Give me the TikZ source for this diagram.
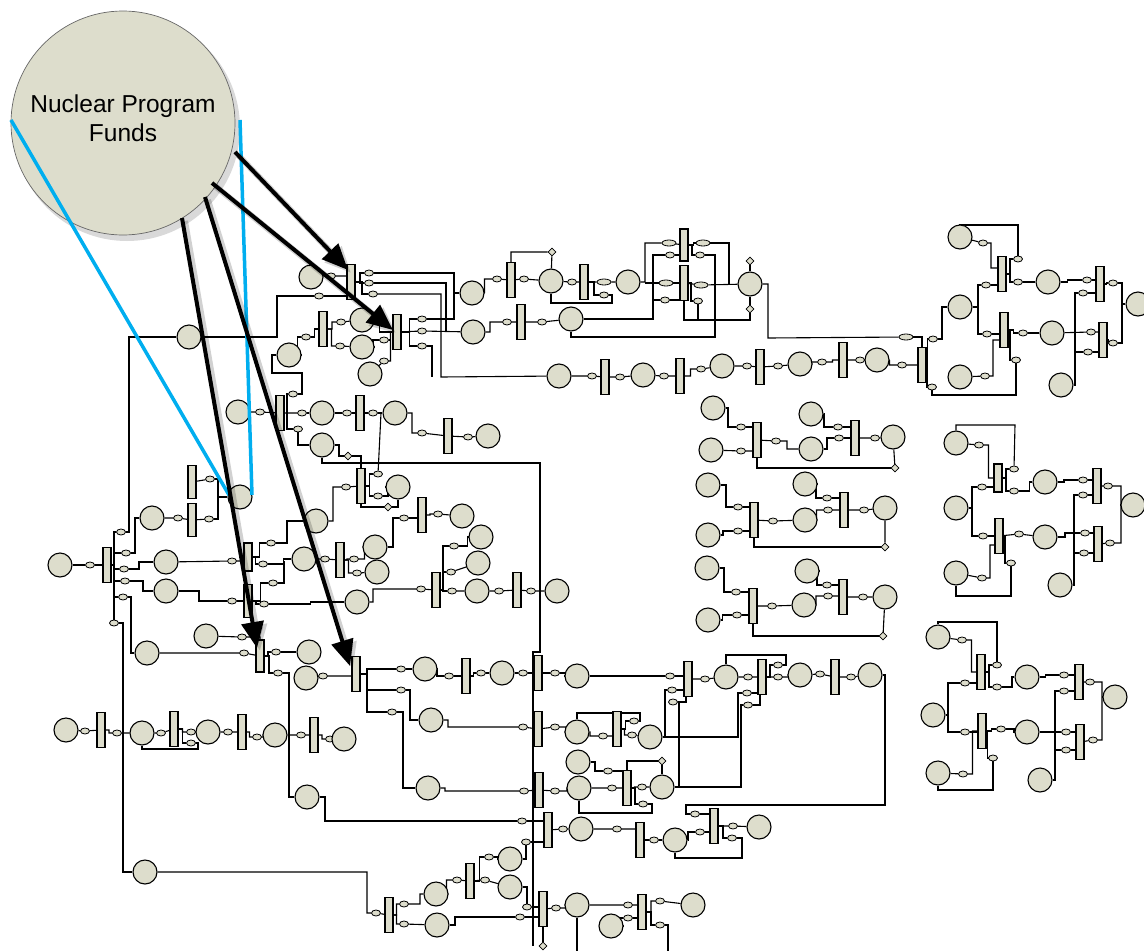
\documentclass[tikz,border=0pt]{standalone}
\usepackage{fontspec}
\setmainfont{Liberation Sans}
\usetikzlibrary{shapes.geometric,arrows.meta,calc}
\pgfdeclarelayer{back}\pgfdeclarelayer{front}
\pgfsetlayers{back,main,front}
\definecolor{bg}{RGB}{221,221,204}
\definecolor{cy}{RGB}{0,174,239}
\newcommand\Ci[3]{\node[ci] (#1) at (#2,#3) {};}
\newcommand\Rb[3]{\node[rb] (#1) at (#2,#3) {};}
\newcommand\Ov[3]{\node[ov] (#1) at (#2,#3) {};}
\newcommand\Ow[3]{\node[ov,minimum width=14pt] (#1) at (#2,#3) {};}
\newcommand\Dm[3]{\node[dm] (#1) at (#2,#3) {};}
\tikzset{
 ci/.style={circle,draw=black,line width=1.1pt,fill=bg,minimum size=24pt,inner sep=0pt},
 rb/.style={rectangle,draw=black,line width=1.1pt,fill=bg,minimum width=8pt,minimum height=35pt,inner sep=0pt},
 ov/.style={ellipse,draw=black,line width=0.8pt,fill=bg,minimum width=9pt,minimum height=6pt,inner sep=0pt},
 dm/.style={diamond,draw=black,line width=0.8pt,fill=bg,minimum size=8pt,inner sep=0pt},
 ln/.style={line width=1.1pt},
 zz/.style={to path={(\tikztostart) -| ($(\tikztostart)!0.5!(\tikztotarget)$) |- (\tikztotarget)}},
 bigarrow/.style={-{Triangle[length=26pt,width=22pt]},line width=4pt},
 arrowshadow/.style={-{Triangle[length=26pt,width=22pt]},line width=6pt,black,opacity=0.18},
}
\begin{document}
\begin{tikzpicture}[x=1pt,y=-1pt]
\useasboundingbox (0,0) rectangle (1144,951);
\begin{pgfonlayer}{back}
\fill[white] (0,0) rectangle (1144,951);
\end{pgfonlayer}
% ---------------- TOP ----------------
\Ci{npfA}{311}{277}\Ov{a1}{331}{276}\Rb{rA1}{351}{282}
\Ov{a2}{369}{273}\Ov{a3}{369}{283}\Ov{a4}{373}{294}\Ov{a5}{319}{296}
\Ci{fcA}{189}{337}\Rb{rA2}{323}{329}
\Ci{cA1}{362}{320}\Ci{cA2}{362}{347}\Ci{cA3}{370}{374}\Ci{cA4}{289}{355}
\Ov{a6}{306}{337}\Ov{a7}{341}{322}\Ov{a8}{340}{346}\Ov{a9}{384}{340}\Ov{a10}{384}{361}
\Rb{rA3}{397}{332}
\Ov{a11}{422}{319}\Ov{a12}{422}{331}\Ov{a13}{422}{346}
\Ci{cU1}{472}{293}\Ci{cU2}{473}{332}
% top chain
\Ov{u1}{497}{279}\Rb{rU1}{511}{280}\Ov{u2}{524}{279}\Dm{du1}{552}{252}\Ci{cU3}{551}{281}
\Ov{u3}{572}{282}\Rb{rU2}{584}{282}\Ow{u4}{604}{282}\Ov{u5}{604}{295}\Ci{cU4}{628}{282}
\Ov{u6}{507}{322}\Rb{rU3}{521}{322}\Ov{u7}{542}{322}\Ci{cU5}{571}{319}
\node[rb,minimum height=32pt] (rU4) at (684,245) {};\Rb{rU5}{684}{283}
\Ow{u8}{669}{243}\Ov{u9}{670}{255}\Ow{u10}{666}{283}\Ov{u11}{665}{300}
\Ow{u12}{703}{243}\Ov{u13}{700}{255}\Ow{u14}{701}{285}\Ov{u15}{698}{301}
\Ci{cU6}{750}{284}\Dm{du2}{750}{261}\Dm{du3}{750}{309}
% lower chain
\Ci{cL1}{559}{376}\Ov{l1}{592}{376}\Rb{rL1}{605}{377}\Ov{l2}{620}{377}\Ci{cL2}{643}{375}
\Ov{l3}{664}{376}\Rb{rL2}{680}{376}\Ov{l4}{701}{369}\Ci{cL3}{722}{366}\Ov{l5}{747}{366}
\Rb{rL3}{760}{367}\Ov{l6}{778}{366}\Ci{cL4}{800}{364}\Ov{l7}{822}{362}\Rb{rL4}{843}{360}
\Ov{l8}{860}{360}\Ci{cL5}{877}{360}\Ov{l9}{902}{365}\Rb{rR1}{922}{365}
% right top cluster
\Ow{wO}{906}{337}\Ov{r2}{933}{339}\Ov{r3}{932}{387}
\Ci{cR1}{960}{237}\Ov{r4}{983}{243}\Rb{rR2}{1002}{274}\Ov{r5}{986}{285}\Ov{r6}{1018}{259}\Ov{r7}{1018}{282}
\Ci{cR2}{960}{307}\Rb{rR3}{1004}{330}\Ov{r8}{987}{334}\Ov{r9}{1023}{333}\Ov{r10}{1016}{360}
\Ci{cR3}{960}{377}\Ov{r11}{985}{376}
\Ci{cR4}{1048}{282}\Ci{cR5}{1052}{333}
\Rb{rR4}{1100}{284}\Ov{r12}{1087}{280}\Ov{r13}{1083}{293}\Ov{r14}{1113}{283}
\Rb{rR5}{1103}{340}\Ov{r15}{1091}{332}\Ov{r16}{1088}{352}\Ov{r17}{1113}{343}
\Ci{cR6}{1138}{304}\Ci{cR7}{1061}{385}
% weapons program area
\Ci{cB0}{238}{412}\Ov{b1}{260}{412}\Rb{rB1}{280}{413}\Ov{b2}{293}{394}\Ov{b3}{302}{413}\Ov{b4}{298}{429}
\Ci{cB1}{322}{413}\Ov{b5}{347}{413}\Rb{rB2}{360}{413}\Ov{b6}{373}{413}\Ci{cB2}{395}{413}
\Ov{b7}{422}{433}\Rb{rB3}{448}{436}\Ov{b8}{468}{437}\Ci{cB3}{488}{436}
\Ci{cB4}{322}{445}\Dm{db1}{348}{456}
\Rb{rB4}{361}{486}\Ov{b9}{378}{474}\Ov{b10}{378}{496}\Ov{b11}{346}{487}\Ci{cB5}{398}{487}\Dm{db2}{388}{507}
% left cluster
\node[rb,minimum height=33pt] (rC0) at (192,482) {};\node[rb,minimum height=33pt] (rC1) at (192,520) {};
\Ov{c1}{210}{479}\Ov{c2}{209}{519}\Ov{c3}{178}{518}
\Ci{cC0}{152}{518}\Ci{npfB}{240}{497}
\Rb{rL}{107}{565}
\Ov{d1}{121}{532}\Ov{d2}{126}{553}\Ov{d3}{124}{569}\Ov{d4}{125}{581}\Ov{d5}{123}{597}\Ov{d6}{114}{623}
\Ci{cC1}{166}{562}\Ci{cC2}{166}{591}
\Ov{d7}{232}{561}\Ov{d8}{232}{601}
\node[rb,minimum height=28pt] (rC2) at (248,557) {};\node[rb,minimum height=33pt] (rC3) at (248,601) {};
\Ov{d9}{271}{543}\Ov{d10}{263}{564}\Ov{d11}{273}{583}\Ov{d12}{264}{604}
\Ci{cC3}{316}{521}\Ci{cC4}{304}{559}
\Ov{d13}{325}{559}\Rb{rC4}{340}{560}\Ov{d14}{354}{559}\Ov{d15}{357}{573}
\Ci{cC5}{375}{547}\Ci{cC6}{377}{572}
\Ov{d16}{404}{518}\Rb{rC5}{422}{515}\Ov{d17}{438}{514}\Ci{cC7}{462}{516}
\Ci{cC8}{357}{602}\Ov{d18}{421}{589}\Rb{rC6}{436}{590}
\Ov{d19}{454}{546}\Ov{d20}{451}{572}\Ov{d21}{452}{591}
\Ci{cC9}{481}{537}\Ci{cC10}{478}{563}\Ci{cC11}{477}{591}
\Ov{d22}{499}{591}\Rb{rC7}{517}{590}\Ov{d23}{531}{591}\Ci{cC12}{557}{591}
\Ci{cLin}{60}{565}\Ov{d0}{90}{565}
% rows 650-830
\Ci{cC13}{147}{653}\Ov{e1}{244}{653}\node[rb,minimum height=32pt] (rE1) at (260,656) {};
\Ov{e2}{276}{652}\Ci{cE1}{309}{652}\Ov{e3}{278}{673}
\Ci{cE2}{206}{636}\Ov{e4}{242}{637}\Ci{cE3}{306}{678}\Ov{e5}{323}{676}
\Rb{rE2}{356}{674}\Ov{e6}{401}{669}\Ov{e7}{401}{690}\Ov{e8}{392}{712}
\Ci{cE4}{425}{669}\Ov{e9}{449}{676}\Rb{rE3}{466}{676}\Ov{e10}{481}{673}\Ci{cE5}{502}{673}\Ov{e11}{523}{673}\Rb{rM1}{538}{673}
\Ci{cE6}{431}{720}\Ov{e14}{523}{727}\Rb{rM2}{538}{729}
\Ci{cE7}{428}{788}\Ov{e12}{524}{791}\Rb{rM3}{539}{790}
\Ci{cE8}{307}{797}\Ov{q0}{522}{821}\Rb{rM4}{548}{830}
\Rb{rM5}{543}{909}\Dm{dM2}{543}{946}
% right rows
\Ov{m1}{555}{673}\Ci{cM1}{577}{676}\Ov{m2}{670}{676}\Rb{rM7}{688}{679}\Ov{m3}{672}{690}\Ov{m4}{673}{702}
\Ov{m5}{705}{679}\Ci{cM2}{726}{677}\Ov{m6}{748}{677}\Rb{rM8}{762}{677}\Ov{m7}{778}{665}\Ov{m8}{778}{677}
\Ov{m9}{747}{693}\Ov{m10}{748}{705}\Ci{cM3}{800}{675}\Ov{m11}{820}{674}\Rb{rM9}{835}{677}\Ov{m12}{851}{677}\Ci{cM4}{870}{675}
\Ov{n1}{555}{727}\Ci{cM7}{577}{732}\Ov{n2}{603}{736}\Rb{rM11}{617}{729}\Ov{n3}{634}{721}\Ov{n4}{632}{735}\Ci{cM5}{650}{737}
\Ov{p1}{555}{791}\Ci{cM8}{579}{788}\Ov{p2}{612}{788}\Rb{rM12}{627}{788}\Ov{p3}{642}{787}\Ov{p4}{643}{804}\Ci{cM6}{662}{787}
\Ci{cM9}{578}{762}\Ov{p5}{608}{771}\Dm{dM1}{662}{761}
\Ov{q1}{563}{829}\Ci{cM10}{581}{829}\Ov{q2}{617}{829}\Rb{rM13}{640}{840}\Ov{q3}{654}{840}\Ci{cM11}{675}{840}
\Ov{s1}{695}{814}\Ov{s2}{700}{832}\Rb{rM10}{714}{826}\Ov{s3}{733}{826}\Ov{s4}{732}{838}\Ci{cM12}{759}{827}
\Ov{t1}{556}{908}\Ci{cM13}{577}{905}\Ov{t2}{628}{905}\Rb{rM14}{642}{912}\Ov{t3}{628}{918}\Ci{cM15}{611}{926}
\Ov{t4}{660}{901}\Ov{t5}{660}{925}\Ci{cM14}{693}{905}
% bottom left
\Ci{cC14}{145}{872}
\Ov{f1}{376}{913}\Rb{rF1}{389}{915}\Ov{f2}{404}{904}\Ci{cF1}{436}{894}\Ov{f3}{457}{880}\Rb{rF2}{470}{881}
\Ov{f4}{489}{857}\Ov{f8}{485}{880}\Ci{cF2}{510}{859}\Ci{cF3}{510}{887}\Ov{f5}{404}{924}\Ci{cF4}{437}{925}
\Ov{f6}{520}{917}\Ov{f7}{527}{907}\Ov{f9}{526}{842}
\Ci{cG0}{66}{730}\Ov{g1}{85}{731}\Rb{rG1}{101}{730}\Ov{g2}{117}{733}\Ci{cG1}{142}{733}\Ov{g3}{161}{733}
\Rb{rG2}{174}{729}\Ov{g4}{191}{732}\Ov{g5}{191}{743}\Ci{cG2}{208}{732}\Ov{g6}{228}{732}\Rb{rG3}{242}{732}
\Ov{g7}{257}{737}\Ci{cG3}{275}{735}\Ov{g8}{301}{735}\Rb{rG4}{314}{735}\Ov{g9}{330}{739}\Ci{cG4}{344}{739}
% middle clusters
\Ci{k1}{713}{408}\Ci{k2}{711}{450}\Ov{ka}{741}{427}\Ov{kb}{741}{451}\Rb{rk1}{757}{440}\Ov{kc}{776}{441}
\Ci{k3}{811}{449}\Ci{k4}{811}{414}\Ov{kd}{838}{427}\Ov{ke}{839}{438}\Rb{rk2}{855}{438}\Ov{kf}{875}{438}\Ci{k5}{893}{437}\Dm{kg}{895}{468}
\Ci{k6}{708}{485}\Ci{k7}{708}{535}\Ov{k8}{738}{507}\Ov{k9}{738}{531}\Rb{rk3}{754}{520}\Ov{k10}{773}{521}
\Ci{k11}{805}{520}\Ci{k12}{805}{484}\Ov{k13}{827}{498}\Ov{k14}{828}{510}\Rb{rk4}{844}{510}\Ov{k15}{864}{510}\Ci{k16}{885}{508}\Dm{k17}{885}{547}
\Ci{k18}{707}{568}\Ci{k19}{708}{620}\Ov{k20}{736}{592}\Ov{k21}{737}{615}\Rb{rk5}{753}{606}\Ov{k22}{772}{606}
\Ci{k23}{804}{605}\Ci{k24}{807}{571}\Ov{k25}{827}{585}\Ov{k26}{828}{596}\Rb{rk6}{843}{597}\Ov{k27}{863}{597}\Ci{k28}{885}{597}\Dm{k29}{883}{636}
% right cluster A
\Ci{ra1}{956}{443}\Ov{ra2}{979}{445}\node[rb,minimum height=28pt] (rra1) at (998,478) {};\Ov{ra3}{982}{487}\Ov{ra4}{1014}{469}\Ov{ra5}{1014}{491}
\Ci{ra6}{956}{508}\Ci{ra7}{956}{573}\Ov{ra8}{982}{578}\Rb{rra2}{999}{536}\Ov{ra9}{983}{536}\Ov{ra10}{1019}{534}\Ov{ra11}{1011}{563}
\Ci{ra12}{1045}{482}\Ci{ra13}{1045}{537}
\Rb{rra3}{1097}{486}\Ov{ra14}{1083}{480}\Ov{ra15}{1083}{495}\Ov{ra16}{1108}{486}
\Rb{rra4}{1098}{544}\Ov{ra17}{1085}{533}\Ov{ra18}{1084}{553}\Ov{ra19}{1110}{543}
\Ci{ra20}{1133}{505}\Ci{ra21}{1060}{585}
% right cluster B
\Ci{rb1}{938}{637}\Ov{rb2}{962}{640}\Rb{rrb1}{981}{672}\Ov{rb3}{965}{683}\Ov{rb4}{997}{665}\Ov{rb5}{997}{687}
\Ci{rb6}{933}{715}\Rb{rrb2}{982}{731}\Ov{rb7}{965}{732}\Ov{rb8}{1001}{729}\Ov{rb9}{993}{758}
\Ci{rb10}{938}{773}\Ov{rb11}{963}{774}\Ci{rb12}{1027}{677}\Ci{rb13}{1027}{732}
\Rb{rrb3}{1079}{682}\Ov{rb14}{1064}{675}\Ov{rb15}{1064}{691}\Ov{rb16}{1090}{682}
\Rb{rrb4}{1080}{742}\Ov{rb17}{1066}{732}\Ov{rb18}{1066}{750}\Ov{rb19}{1093}{740}
\Ci{rb20}{1115}{697}\Ci{rb21}{1040}{780}

\begin{pgfonlayer}{back}
% top
\draw[ln] (npfA) -- (a1) -- (a1 -| rA1.west);
\draw[ln] (rA1) to[zz] (a2); \draw[ln] (rA1) to[zz] (a3); \draw[ln] (rA1) to[zz] (a4);
\draw[ln] (fcA) -- (277,337) -- (277,296) -- (a5) -- (a5 -| rA1.west);
\draw[ln] (a2) -- (454,273) -- (454,319) -- (a11); \draw[ln] (454,293) -- (cU1);
\draw[ln] (a3) -- (446,283) -- (446,332);
\draw[ln] (a4) -- (441,294) -- (441,377) -- (cL1);
\draw[ln] (a13) -- (432,346) -- (432,377);
\draw[ln] (a12) -- (cU2);
\draw[ln] (cA4) to[zz] (a6) to[zz] (rA2);
\draw[ln] (rA2) to[zz] (a7) -- (cA1); \draw[ln] (rA2) to[zz] (a8) -- (cA2);
\draw[ln] (cA1) to[zz] (rA3); \draw[ln] (cA2) to[zz] (a9) to[zz] (rA3); \draw[ln] (cA3) -- (a10) to[zz] (rA3);
\draw[ln] (rA3) to[zz] (a11); \draw[ln] (rA3) -- (a12); \draw[ln] (rA3) to[zz] (a13);
\draw[ln] (cA4.west) -- (272,355) -- (272,373) -- (302,373) -- (302,394) -- (b2);
% top chain
\draw[ln] (cU1) to[zz] (u1) -- (rU1) -- (u2) -- (cU3) -- (u3) -- (rU2) -- (u4) -- (cU4);
\draw[ln] (rU1.north) -- (511,252) -- (du1) -- (cU3);
\draw[ln] (rU2) to[zz] (u5);
\draw[ln] (cU3.south) -- (551,303) -- (612,303) -- (612,295) -- (u5);
\draw[ln] (cU2) to[zz] (u6) -- (rU3) -- (u7) -- (cU5);
\draw[ln] (cU4) -- (645,282) -- (645,243) -- (u8) -- (rU4);
\draw[ln] (645,283) -- (u10) -- (rU5);
\draw[ln] (cU5) -- (653,319) -- (653,255) -- (u9) -- (u9 -| rU4.west);
\draw[ln] (653,300) -- (u11) -- (u11 -| rU5.west);
\draw[ln] (rU4) to[zz] (u12); \draw[ln] (rU4) to[zz] (u13);
\draw[ln] (u12) -- (729,243) -- (729,284);
\draw[ln] (rU5) -- (u14) -- (cU6);
\draw[ln] (rU5) to[zz] (u15); \draw[ln] (u15) -- (698,320);
\draw[ln] (u13) -- (715,255) -- (715,337) -- (571,337) -- (cU5);
\draw[ln] (rU5.south) -- (684,320) -- (750,320) -- (du3);
\draw[ln] (du2) -- (cU6) -- (du3);
\draw[ln] (cU6) -- (768,284) -- (768,338) -- (wO);
% lower chain
\draw[ln] (cL1) -- (l1) -- (rL1) -- (l2) -- (cL2) -- (l3) -- (rL2) to[zz] (l4) -- (cL3) -- (l5) -- (rL3) -- (l6) -- (cL4) to[zz] (l7) to[zz] (rL4) -- (l8) -- (cL5) to[zz] (l9) -- (rR1);
% right top cluster
\draw[ln] (wO) -| (rR1.north);
\draw[ln] (rR1) to[zz] (r2); \draw[ln] (r2) -- (942,339) -- (942,307) -- (cR2);
\draw[ln] (rR1) to[zz] (r3); \draw[ln] (r3) -- (932,395) -- (1016,395) -- (r10);
\draw[ln] (cR1) -- (r4) -- (991,243) -- (991,268) -- (991,268 -| rR2.west);
\draw[ln] (cR1.north) -- (960,225) -- (1018,225) -- (r6);
\draw[ln] (cR2) -- (978,307) -- (978,285) -- (r5) -- (r5 -| rR2.west);
\draw[ln] (978,307) -- (978,334) -- (r8) -- (r8 -| rR3.west);
\draw[ln] (rR2) to[zz] (r6); \draw[ln] (rR2) to[zz] (r7) -- (cR4);
\draw[ln] (cR3) -- (r11) -- (993,376) -- (993,340) -- (993,340 -| rR3.west);
\draw[ln] (rR3) to[zz] (r9) -- (cR5); \draw[ln] (rR3) to[zz] (r10);
\draw[ln] (cR4) to[zz] (r12) -- (r12 -| rR4.west);
\draw[ln] (cR5) -- (r15) -- (r15 -| rR5.west);
\draw[ln] (cR7) -| (1075,293) -- (r13) -- (r13 -| rR4.west);
\draw[ln] (1075,352) -- (r16) -- (r16 -| rR5.west);
\draw[ln] (rR4) to[zz] (r14); \draw[ln] (r14) -- (1122,283) -- (1122,343) -- (r17); \draw[ln] (rR5) to[zz] (r17);
\draw[ln] (1122,304) -- (cR6);
% weapons program
\draw[ln] (cB0) -- (b1) -- (rB1) -- (b3);
\draw[ln] (b2) -- (287,394) -- (287,429) -- (b4);
\draw[ln] (b3) -- (cB1) -- (b5) -- (rB2) -- (b6) -- (cB2);
\draw[ln] (b4) |- (cB4);
\draw[ln] (cB2.east) -- (412,413) -- (412,433) -- (b7) -- (rB3) -- (b8) -- (cB3);
\draw[ln] (cB4.south) -- (322,463) -- (540,463) -- (540,652) -- (533,652) -- (533,946);
\draw[ln] (cB4.east) -- (339,445) -- (339,456) -- (db1) -- (361,456) -- (rB4.north);
\draw[ln] (381,413) -- (b9);
\draw[ln] (rB4) to[zz] (b9); \draw[ln] (rB4) to[zz] (b10) to[zz] (cB5);
\draw[ln] (cC3.east) -- (333,521) -- (333,487) -- (b11) -- (rB4);
\draw[ln] (rB4.south) |- (db2) -| (cB5.south);
% left cluster
\draw[ln] (cLin) -- (d0) -- (rL);
\draw[ln] (rL.east) -- (114,565);
\draw[ln] (d1) -- (114,532) -- (d6); \draw[ln] (114,553) -- (d2); \draw[ln] (114,569) -- (d3); \draw[ln] (114,581) -- (d4); \draw[ln] (114,597) -- (d5);
\draw[ln] (d1) -- (129,532) -- (129,337) -- (fcA);
\draw[ln] (d2) -- (135,553) -- (135,518) -- (cC0);
\draw[ln] (d3) -- (139,569) -- (139,562) -- (cC1);
\draw[ln] (d4) -- (143,581) -- (143,591) -- (cC2);
\draw[ln] (d5) -- (131,597) -- (131,653) -- (cC13);
\draw[ln] (d6) -- (123,623) -- (123,872) -- (cC14);
\draw[ln] (cC0) -- (c3) -- (rC1);
\draw[ln] (npfB) -- (218,497) -- (218,479) -- (c1); \draw[ln] (218,497) -- (218,519) -- (c2);
\draw[ln] (rC0) -- (c1); \draw[ln] (rC1) -- (c2);
\draw[ln] (cC1) -- (d7) -- (d7 -| rC2.west); \draw[ln] (cC2) to[zz] (d8) -- (rC3);
\draw[ln] (rC2) to[zz] (d9); \draw[ln] (rC2) to[zz] (d10); \draw[ln] (rC3) to[zz] (d11); \draw[ln] (rC3) to[zz] (d12);
\draw[ln] (d9) -- (287,543) -- (287,521) -- (cC3);
\draw[ln] (d10) to[zz] (cC4);
\draw[ln] (d11) -- (284,583) -- (284,561);
\draw[ln] (d12) to[zz] (cC8);
\draw[ln] (cC4) -- (d13) -- (rC4) to[zz] (d14) to[zz] (cC5);
\draw[ln] (rC4) to[zz] (d15) -- (cC6);
\draw[ln] (cC5.east) -- (393,547) -- (393,518) -- (d16) -- (d16 -| rC5.west);
\draw[ln] (rC5) to[zz] (d17) -- (cC7);
\draw[ln] (cC8.east) -- (373,602) -- (373,589) -- (d18) -- (rC6);
\draw[ln] (rC6.east) -- (443,590);
\draw[ln] (d19) -- (443,546) -- (443,591) -- (d21); \draw[ln] (443,572) -- (d20);
\draw[ln] (d19) to[zz] (cC9); \draw[ln] (d20) -- (cC10); \draw[ln] (d21) -- (cC11) -- (d22) -- (rC7) -- (d23) -- (cC12);
% rows 650-830
\draw[ln] (cC13) -- (e1) -- (rE1);
\draw[ln] (cE2) -- (e4) -| (rE1.north);
\draw[ln] (rE1) to[zz] (e2) -- (cE1); \draw[ln] (rE1) to[zz] (e3);
\draw[ln] (e3) -- (289,673) -- (289,797) -- (cE8);
\draw[ln] (cE3) -- (e5) -- (e5 -| rE2.west);
\draw[ln] (rE2.east) -- (367,674);
\draw[ln] (e6) -- (367,669) -- (367,712) -- (e8); \draw[ln] (367,690) -- (e7);
\draw[ln] (e6) -- (cE4) to[zz] (e9) -- (rE3) to[zz] (e10) -- (cE5) -- (e11) -- (rM1);
\draw[ln] (e7) -- (410,690) -- (410,720) -- (cE6);
\draw[ln] (cE6) -- (448,720) -- (448,727) -- (e14) -- (rM2);
\draw[ln] (e8) -- (403,712) -- (403,788) -- (cE7);
\draw[ln] (cE7) -- (445,788) -- (445,791) -- (e12) -- (rM3);
\draw[ln] (cE8.east) -- (325,797) -- (325,821) -- (q0) -- (q0 -| rM4.west);
\draw[ln] (rM5) -- (dM2);
% right rows
\draw[ln] (rM1) -- (m1) to[zz] (cM1) to[zz] (m2) -- (m2 -| rM7.west);
\draw[ln] (rM7) -- (m5) -- (cM2) -- (m6) -- (rM8);
\draw[ln] (rM8) to[zz] (m7); \draw[ln] (rM8) -- (m8) to[zz] (cM3) -- (m11) -- (rM9) -- (m12) -- (cM4);
\draw[ln] (cM2.north) -- (726,655) -- (786,655) -- (786,665) -- (m7);
\draw[ln] (m3) -- (m3 -| rM7.west);
\draw[ln] (679,787) -- (679,702) -- (m4); \draw[ln] (679,702) -- (686,702) -- (686,696);
\draw[ln] (m9) -- (m9 -| rM8.west); \draw[ln] (m10) -- (760,705) -- (760,694);
\draw[ln] (cM4) -- (885,675) -- (885,805) -- (686,805) -- (686,814) -- (s1) -- (s1 -| rM10.west);
\draw[ln] (rM2) -- (n1) to[zz] (cM7) to[zz] (n2) -- (n2 -| rM11.west);
\draw[ln] (rM11) to[zz] (n3); \draw[ln] (rM11) to[zz] (n4) -- (cM5);
\draw[ln] (cM7.north) -- (577,713) -- (640,713) -- (640,721) -- (n3);
\draw[ln] (cM5) -- (738,737) -- (738,693) -- (m9);
\draw[ln] (665,737) -- (665,690) -- (m3);
\draw[ln] (rM3) -- (p1) to[zz] (cM8) -- (p2) -- (rM12) to[zz] (p3) -- (cM6);
\draw[ln] (rM12) to[zz] (p4);
\draw[ln] (cM8.south) -- (579,813) -- (652,813) -- (652,804) -- (p4);
\draw[ln] (cM9.east) -- (595,762) -- (595,771) -- (p5) -- (p5 -| rM12.west);
\draw[ln] (rM12.north) -- (627,761) -- (dM1) -- (cM6);
\draw[ln] (cM6) -- (741,787) -- (741,705) -- (m10);
\draw[ln] (rM4) -- (q1) -- (cM10) -- (q2) -- (q2 -| rM13.west);
\draw[ln] (rM13) -- (q3) -- (cM11);
\draw[ln] (cM11) -- (688,840) -- (688,832) -- (s2) -- (s2 -| rM10.west);
\draw[ln] (rM10) -- (s3) -- (cM12); \draw[ln] (rM10) to[zz] (s4);
\draw[ln] (cM11.south) -- (675,858) -- (742,858) -- (742,838) -- (s4);
\draw[ln] (rM5) -- (t1) to[zz] (cM13) -- (t2) -- (t2 -| rM14.west);
\draw[ln] (cM15) to[zz] (t3) -- (t3 -| rM14.west);
\draw[ln] (rM14) to[zz] (t4) -- (cM14); \draw[ln] (rM14) to[zz] (t5); \draw[ln] (t5) -- (668,925) -- (668,951);
\draw[ln] (cM13.south) -- (577,951);
% bottom left
\draw[ln] (cC14) -- (367,872) -- (367,913) -- (f1) -- (rF1);
\draw[ln] (rF1) to[zz] (f2) to[zz] (cF1) to[zz] (f3) -- (rF2);
\draw[ln] (rF1) to[zz] (f5) -- (cF4);
\draw[ln] (cF4.east) -- (455,925) -- (455,917) -- (f6) -- (f6 -| rM5.west);
\draw[ln] (rF2) to[zz] (f4) to[zz] (cF2); \draw[ln] (rF2) -- (f8) -- (cF3);
\draw[ln] (cF2) -| (f9); \draw[ln] (f9) -- (f9 -| rM4.west);
\draw[ln] (cF3) -| (f7); \draw[ln] (f7) -- (f7 -| rM5.west);
\draw[ln] (cG0) -- (g1) -- (rG1) to[zz] (g2) to[zz] (cG1) -- (g3) -- (rG2) to[zz] (g4) to[zz] (cG2) -- (g6) -- (rG3) to[zz] (g7) to[zz] (cG3) -- (g8) -- (rG4) to[zz] (g9) -- (cG4);
\draw[ln] (rG2) to[zz] (g5);
\draw[ln] (cG1.south) -- (142,749) -- (198,749) -- (198,743) -- (g5);
% middle clusters
\draw[ln] (k1.east) -- (728,408) -- (728,427) -- (ka) -- (ka -| rk1.west);
\draw[ln] (k2) -- (kb) -- (kb -| rk1.west);
\draw[ln] (rk1) -- (kc) -- (787,441) -- (787,449) -- (k3);
\draw[ln] (k3.east) -- (827,449) -- (827,438) -- (ke) -- (ke -| rk2.west);
\draw[ln] (k4.east) -- (824,414) -- (824,427) -- (kd) -- (kd -| rk2.west);
\draw[ln] (rk2) -- (kf) -- (k5) -- (kg); \draw[ln] (rk1.south) -- (757,468) -- (kg);
\draw[ln] (k6.east) -- (726,485) -- (726,507) -- (k8) -- (k8 -| rk3.west);
\draw[ln] (k7) to[zz] (k9) -- (k9 -| rk3.west);
\draw[ln] (rk3) -- (k10) -- (k11) to[zz] (k14) -- (k14 -| rk4.west);
\draw[ln] (k12) to[zz] (k13) -- (k13 -| rk4.west);
\draw[ln] (rk4) -- (k15) -- (k16) -- (k17); \draw[ln] (rk3.south) |- (k17);
\draw[ln] (k18.east) -- (724,568) -- (724,592) -- (k20) -- (k20 -| rk5.west);
\draw[ln] (k19) to[zz] (k21) -- (k21 -| rk5.west);
\draw[ln] (rk5) -- (k22) -- (k23) to[zz] (k26) -- (k26 -| rk6.west);
\draw[ln] (k24) to[zz] (k25) -- (k25 -| rk6.west);
\draw[ln] (rk6) -- (k27) -- (k28) -- (k29); \draw[ln] (rk5.south) |- (k29);
% right cluster A
\draw[ln] (ra1) -- (ra2) to[zz] (rra1);
\draw[ln] (ra1.north) -- (956,425) -- (1015,425) -- (ra4);
\draw[ln] (ra6.east) -- (972,508) -- (972,487) -- (ra3) -- (ra3 -| rra1.west);
\draw[ln] (972,508) -- (972,536) -- (ra9) -- (rra2);
\draw[ln] (rra1) to[zz] (ra4); \draw[ln] (rra1) to[zz] (ra5) to[zz] (ra12);
\draw[ln] (ra7) -- (ra8) -- (990,578) -- (990,545) -- (990,545 -| rra2.west);
\draw[ln] (ra7.south) -- (956,596) -- (1011,596) -- (ra11);
\draw[ln] (rra2) -- (ra10) -- (ra13); \draw[ln] (rra2) to[zz] (ra11);
\draw[ln] (ra12) to[zz] (ra14) -- (ra14 -| rra3.west); \draw[ln] (ra13) to[zz] (ra17) -- (ra17 -| rra4.west);
\draw[ln] (ra21) -| (1074,495) -- (ra15) -- (ra15 -| rra3.west); \draw[ln] (1074,553) -- (ra18) -- (ra18 -| rra4.west);
\draw[ln] (rra3) -- (ra16) -- (1121,486) -- (1121,543) -- (ra19) -- (rra4); \draw[ln] (1121,505) -- (ra20);
% right cluster B
\draw[ln] (rb1) -- (rb2) to[zz] (rrb1);
\draw[ln] (rb1.north) -- (938,622) -- (997,622) -- (rb4);
\draw[ln] (rrb1) to[zz] (rb4); \draw[ln] (rrb1) to[zz] (rb5) to[zz] (rb12);
\draw[ln] (rb6) -- (948,715) -- (948,683) -- (rb3) -- (rb3 -| rrb1.west);
\draw[ln] (948,715) -- (948,732) -- (rb7) -- (rb7 -| rrb2.west);
\draw[ln] (rrb2) to[zz] (rb8) to[zz] (rb13); \draw[ln] (rrb2) to[zz] (rb9);
\draw[ln] (rb10) -- (rb11) to[zz] (rrb2);
\draw[ln] (rb10.south) -- (938,790) -- (993,790) -- (rb9);
\draw[ln] (rb12) to[zz] (rb14) -- (rb14 -| rrb3.west); \draw[ln] (rb13) to[zz] (rb17) -- (rb17 -| rrb4.west);
\draw[ln] (rb21) -| (1055,691) -- (rb15) -- (rb15 -| rrb3.west); \draw[ln] (1055,750) -- (rb18) -- (rb18 -| rrb4.west);
\draw[ln] (rrb3) -- (rb16) -- (1102,682) -- (1102,740) -- (rb19) -- (rrb4); \draw[ln] (1102,697) -- (rb20);
\end{pgfonlayer}

\begin{pgfonlayer}{front}
% big circle
\fill[black,opacity=0.15] (127,128) circle[radius=113pt];
\node[circle,draw=black!60,line width=0.7pt,fill=bg,minimum size=224pt,inner sep=0pt] (big) at (123,123) {};
\node[font=\fontsize{24.5}{29}\selectfont,align=center] (bigtext) at (123,118) {Nuclear Program\\Funds};
% callout lines
\draw[cy,line width=3.5pt] (11,120) -- (229,495);
\draw[cy,line width=3.5pt] (240,120) -- (252,495);
% arrows
\coordinate (s1) at (235,152); \coordinate (t1) at (348,270);
\coordinate (s2) at (212,183); \coordinate (t2) at (393,330);
\coordinate (s3) at (182,218); \coordinate (t3) at (257,648);
\coordinate (s4) at (205,197); \coordinate (t4) at (350,666);
\foreach \s/\t in {s1/t1,s2/t2,s3/t3,s4/t4}{
  \draw[arrowshadow] ($(\s)+(3,3)$) -- ($(\t)+(3,3)$);
  \draw[bigarrow] (\s) -- (\t);
}
\end{pgfonlayer}
\end{tikzpicture}
\end{document}
